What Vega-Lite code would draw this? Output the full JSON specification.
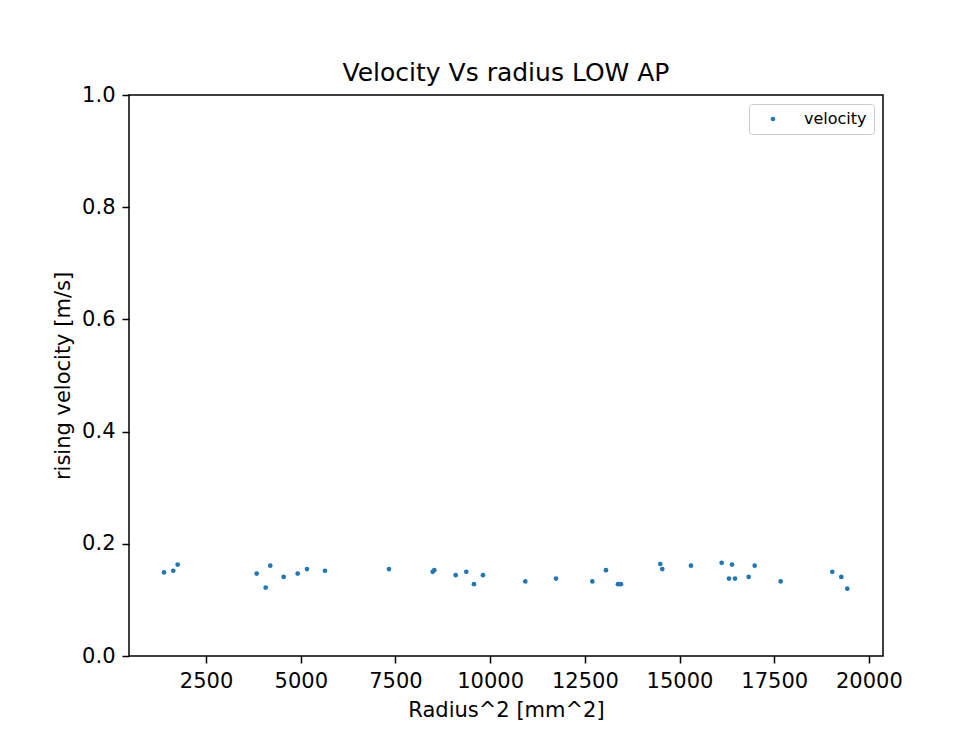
{
  "$schema": "https://vega.github.io/schema/vega-lite/v6.json",
  "width": 754,
  "height": 561,
  "autosize": "none",
  "padding": {"left": 129, "top": 95, "right": 88, "bottom": 73},
  "background": "white",
  "title": {"text": "Velocity Vs radius LOW AP", "fontSize": 25, "font": "DejaVu Sans", "fontWeight": "normal", "color": "#000000", "anchor": "middle", "offset": 15, "baseline": "alphabetic", "dy": 37},
  "data": {"values": [
    {"radius2": 1389, "velocity": 0.149},
    {"radius2": 1634, "velocity": 0.152},
    {"radius2": 1750, "velocity": 0.163},
    {"radius2": 3836, "velocity": 0.147},
    {"radius2": 4074, "velocity": 0.122},
    {"radius2": 4195, "velocity": 0.161},
    {"radius2": 4549, "velocity": 0.141},
    {"radius2": 4919, "velocity": 0.147},
    {"radius2": 5164, "velocity": 0.155},
    {"radius2": 5639, "velocity": 0.152},
    {"radius2": 7329, "velocity": 0.155},
    {"radius2": 8483, "velocity": 0.150},
    {"radius2": 8525, "velocity": 0.153},
    {"radius2": 9090, "velocity": 0.144},
    {"radius2": 9370, "velocity": 0.150},
    {"radius2": 9573, "velocity": 0.128},
    {"radius2": 9811, "velocity": 0.144},
    {"radius2": 10928, "velocity": 0.133},
    {"radius2": 11738, "velocity": 0.138},
    {"radius2": 12697, "velocity": 0.133},
    {"radius2": 13058, "velocity": 0.153},
    {"radius2": 13375, "velocity": 0.128},
    {"radius2": 13454, "velocity": 0.128},
    {"radius2": 14492, "velocity": 0.164},
    {"radius2": 14545, "velocity": 0.155},
    {"radius2": 15302, "velocity": 0.161},
    {"radius2": 16113, "velocity": 0.166},
    {"radius2": 16306, "velocity": 0.138},
    {"radius2": 16385, "velocity": 0.163},
    {"radius2": 16464, "velocity": 0.138},
    {"radius2": 16826, "velocity": 0.141},
    {"radius2": 16984, "velocity": 0.161},
    {"radius2": 17671, "velocity": 0.133},
    {"radius2": 19033, "velocity": 0.150},
    {"radius2": 19271, "velocity": 0.141},
    {"radius2": 19429, "velocity": 0.120}
  ]},
  "mark": {"type": "point", "filled": true, "opacity": 1, "size": 22},
  "encoding": {
    "x": {
      "field": "radius2", "type": "quantitative",
      "scale": {"domain": [465, 20372], "nice": false, "zero": false},
      "axis": {"values": [2500, 5000, 7500, 10000, 12500, 15000, 17500, 20000], "format": "d", "title": "Radius^2 [mm^2]", "labelFlush": false, "labelOverlap": false}
    },
    "y": {
      "field": "velocity", "type": "quantitative",
      "scale": {"domain": [0, 1], "nice": false, "zero": true},
      "axis": {"values": [0, 0.2, 0.4, 0.6, 0.8, 1.0], "format": ".1f", "title": "rising velocity [m/s]", "labelFlush": false, "labelOverlap": false}
    },
    "color": {
      "datum": "velocity", "type": "nominal",
      "scale": {"range": ["#1f77b4"]},
      "legend": {
        "title": null, "orient": "top-right", "offset": 9,
        "padding": 7, "fillColor": "white", "strokeColor": "#cccccc", "cornerRadius": 3,
        "labelFontSize": 16, "labelFont": "DejaVu Sans", "labelColor": "#000000",
        "symbolType": "circle", "symbolSize": 22, "symbolOffset": 9, "labelOffset": 23, "symbolStrokeWidth": 0
      }
    }
  },
  "config": {
    "font": "DejaVu Sans",
    "view": {"stroke": "#000000", "strokeWidth": 1.5},
    "axis": {
      "grid": false, "domain": false,
      "tickColor": "#000000", "tickSize": 7, "tickWidth": 1.5,
      "labelFont": "DejaVu Sans", "labelFontSize": 21, "labelColor": "#000000", "labelPadding": 7,
      "titleFont": "DejaVu Sans", "titleFontSize": 21, "titleFontWeight": "normal", "titleColor": "#000000", "titlePadding": 8
    }
  }
}
